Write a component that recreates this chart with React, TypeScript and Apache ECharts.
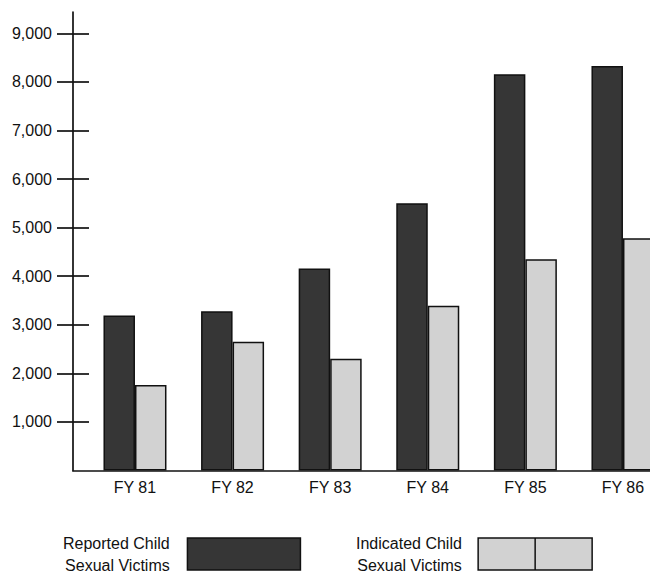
import { useEffect, useRef } from "react";
import * as echarts from "echarts";

const categories = ["FY 81", "FY 82", "FY 83", "FY 84", "FY 85", "FY 86"];
const reported = [3190, 3280, 4160, 5500, 8160, 8330];
const indicated = [1760, 2650, 2300, 3390, 4350, 4780];
const yTickValues = [1000, 2000, 3000, 4000, 5000, 6000, 7000, 8000, 9000];
const seriesNames = ["Reported Child\nSexual Victims", "Indicated Child\nSexual Victims"];

const FONT = "'Liberation Sans', Arial, Helvetica, sans-serif";

export default function App() {
  const ref = useRef<HTMLDivElement>(null);
  useEffect(() => {
    if (!ref.current) return;
    const chart = echarts.init(ref.current, null, { renderer: "svg" });
    const catIdx = categories.map((_, i) => i);
    const legendText = (padRight: number) => ({
      fontSize: 16,
      lineHeight: 22,
      fontFamily: FONT,
      color: "#111",
      padding: [0, padRight, 8, 0],
    });
    const option: any = {
      animation: false,
      backgroundColor: "#ffffff",
      textStyle: { fontFamily: FONT, color: "#111" },
      grid: { left: 73, right: 0, top: 12, bottom: 101.5, outerBoundsMode: "none", containLabel: false },
      xAxis: {
        type: "value",
        min: -0.635,
        max: 5.277,
        axisLine: { show: true, onZero: false, lineStyle: { color: "#111", width: 1.7 } },
        axisTick: { show: false },
        splitLine: { show: false },
        axisLabel: {
          customValues: catIdx,
          formatter: (v: number) => categories[Math.round(v)] ?? "",
          margin: 9,
          fontSize: 16,
          fontFamily: FONT,
          color: "#111",
        },
      },
      yAxis: [
        {
          type: "value",
          min: 0,
          max: 9440,
          position: "left",
          axisLine: { show: true, onZero: false, lineStyle: { color: "#111", width: 1.7 } },
          axisTick: { show: true, customValues: yTickValues, length: 16, lineStyle: { color: "#111", width: 1.7 } },
          splitLine: { show: false },
          axisLabel: {
            customValues: yTickValues,
            formatter: (v: number) => v.toLocaleString("en-US"),
            margin: 21,
            fontSize: 16,
            fontFamily: FONT,
            color: "#111",
            padding: [5, 0, 0, 0],
          },
        },
        {
          type: "value",
          min: 0,
          max: 9440,
          position: "right",
          offset: -577,
          axisLine: { show: false, onZero: false },
          axisTick: { show: true, customValues: yTickValues, length: 16, lineStyle: { color: "#111", width: 1.7 } },
          splitLine: { show: false },
          axisLabel: { show: false },
        },
      ],
      legend: [
        {
          data: [seriesNames[0]],
          left: 63,
          top: 528,
          align: "right",
          padding: 0,
          itemWidth: 113,
          itemHeight: 32,
          icon: "rect",
          itemStyle: { borderColor: "#111", borderWidth: 1.5 },
          textStyle: legendText(12.7),
        },
        {
          data: [seriesNames[1]],
          left: 356,
          top: 528,
          align: "right",
          padding: 0,
          itemWidth: 114,
          itemHeight: 32,
          icon: "path://M0,0H114V32H0ZM57,0V32",
          itemStyle: { borderColor: "#111", borderWidth: 1.5 },
          textStyle: legendText(11.3),
        },
      ],
      series: [
        {
          name: seriesNames[0],
          type: "bar",
          data: reported.map((v, i) => [catIdx[i], v]),
          barWidth: 31.5,
          barGap: "0%",
          itemStyle: { color: "#363636", borderColor: "#111", borderWidth: 1.5 },
        },
        {
          name: seriesNames[1],
          type: "bar",
          data: indicated.map((v, i) => [catIdx[i], v]),
          barWidth: 31.5,
          barGap: "0%",
          itemStyle: { color: "#d2d2d2", borderColor: "#111", borderWidth: 1.5 },
        },
      ],
    };
    chart.setOption(option);
    return () => chart.dispose();
  }, []);
  return (
    <div
      ref={ref}
      style={{ position: "absolute", left: 0, top: 0, width: 650, height: 572, background: "#fff" }}
    />
  );
}
